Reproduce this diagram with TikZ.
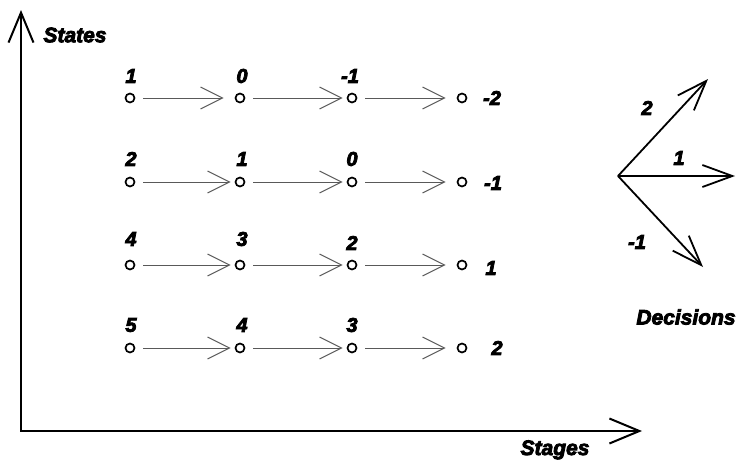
\documentclass[tikz,border=0pt]{standalone}
\usepackage{fontspec}
\setmainfont{Liberation Sans}
\newfontfamily\heavy{Liberation Sans}[BoldItalicFeatures={FakeBold=4}]
\usetikzlibrary{arrows.meta}
\begin{document}
\begin{tikzpicture}[x=1pt,y=-1pt,
  st/.style={circle,draw,line width=1.7pt,inner sep=0pt,minimum size=9pt},
  lbl/.style={font=\heavy\fontsize{20}{20}\selectfont\bfseries\itshape,inner sep=0pt},
  big/.style={font=\heavy\fontsize{21}{21}\selectfont\bfseries\itshape,inner sep=0pt},
  flow/.style={draw=black!65,line width=1pt,shorten <=8pt,
    -{Straight Barb[length=22pt,width=22pt,line width=1pt]}},
  near/.style={shorten >=4pt},
  far/.style={shorten >=11pt},
  axis/.style={line width=2pt,line cap=rect,-{Straight Barb[length=30pt,width=25pt]}},
  dec/.style={line width=1.8pt,-{Straight Barb[length=30pt,width=22pt]}}]
\useasboundingbox (0,0) rectangle (738,461);

% axes
\coordinate (O) at (21,431);
\coordinate (ytip) at (21,10);
\coordinate (xtip) at (642,431);
\draw[axis] (O) -- (ytip);
\draw[axis] (O) -- (xtip);
\node[big] (states) at (75,35) {States};
\node[big,anchor=base] (stages) at (555,455) {Stages};

% grid of states
\foreach \r/\y in {1/98,2/182,3/265,4/348}{
  \foreach \c/\x in {1/130,2/240,3/352,4/462}{
    \node[st] (r\r c\c) at (\x,\y) {};
  }
}

% row 1
\draw[flow,far]  (r1c1) -- (r1c2);
\draw[flow,near] (r1c2) -- (r1c3);
\draw[flow,far]  (r1c3) -- (r1c4);
% row 2
\draw[flow,near] (r2c1) -- (r2c2);
\draw[flow,near] (r2c2) -- (r2c3);
\draw[flow,far]  (r2c3) -- (r2c4);
% row 3
\draw[flow,near] (r3c1) -- (r3c2);
\draw[flow,near] (r3c2) -- (r3c3);
\draw[flow,far]  (r3c3) -- (r3c4);
% row 4
\draw[flow,near] (r4c1) -- (r4c2);
\draw[flow,near] (r4c2) -- (r4c3);
\draw[flow,far]  (r4c3) -- (r4c4);

% labels row 1
\node[lbl] (l11) at (131,76) {1};
\node[lbl] (l12) at (242,76) {0};
\node[lbl] (l13) at (350,76) {-1};
\node[lbl] (l14) at (492,98) {-2};
% labels row 2
\node[lbl] (l21) at (131,159) {2};
\node[lbl] (l22) at (242,159) {1};
\node[lbl] (l23) at (352,159) {0};
\node[lbl] (l24) at (493,183) {-1};
% labels row 3
\node[lbl] (l31) at (131,239) {4};
\node[lbl] (l32) at (242,239) {3};
\node[lbl] (l33) at (352,243) {2};
\node[lbl] (l34) at (491,268) {1};
% labels row 4
\node[lbl] (l41) at (131,325) {5};
\node[lbl] (l42) at (242,325) {4};
\node[lbl] (l43) at (352,325) {3};
\node[lbl] (l44) at (497,348) {2};

% decisions
\coordinate (D) at (618,176);
\coordinate (dup) at (708,79);
\coordinate (dmid) at (735,176);
\coordinate (ddown) at (703,267);
\draw[dec] (D) -- (dup);
\draw[dec] (D) -- (dmid);
\draw[dec] (D) -- (ddown);
\node[lbl] (d2) at (647,108) {2};
\node[lbl] (d1) at (679,158) {1};
\node[lbl] (dm1) at (637,242) {-1};
\node[big] (decisions) at (686,317) {Decisions};
\end{tikzpicture}
\end{document}
